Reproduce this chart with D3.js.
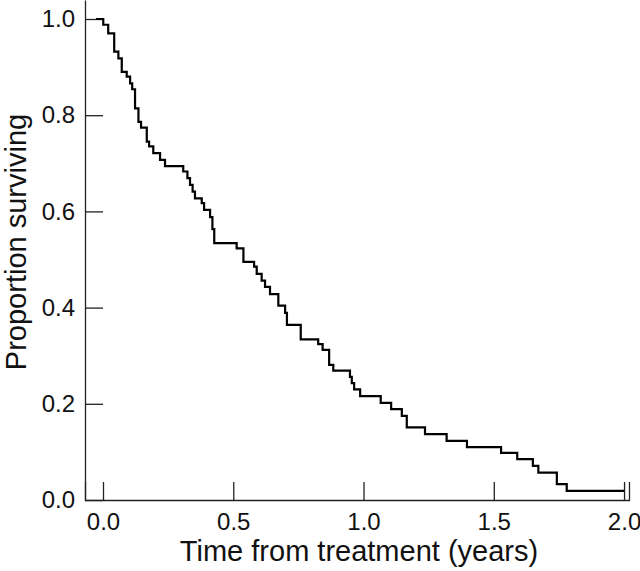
<!DOCTYPE html>
<html>
<head>
<meta charset="utf-8">
<script src="https://cdn.jsdelivr.net/npm/d3@7"></script>
<style>
  body { margin: 0; background: #fff; }
  svg { display: block; }
  .axis path, .axis line { stroke: #222; stroke-width: 1.3px; }
  .axis text { font-family: "Liberation Sans", Arial, sans-serif; font-size: 24px; fill: #111; }
  .label { font-family: "Liberation Sans", Arial, sans-serif; font-size: 29px; fill: #111; }
</style>
</head>
<body>
<div id="chart"></div>
<script>
// Kaplan-Meier estimate: time (years) of each drop and survival after it
var times = [-0.027, 0.001, 0.020, 0.043, 0.059, 0.072, 0.091, 0.104, 0.112, 0.123, 0.136,
    0.146, 0.168, 0.177, 0.193, 0.219, 0.238, 0.308, 0.324, 0.334, 0.344, 0.353, 0.379,
    0.388, 0.411, 0.420, 0.427, 0.513, 0.539, 0.580, 0.590, 0.609, 0.622, 0.641, 0.673,
    0.699, 0.706, 0.759, 0.826, 0.843, 0.868, 0.884, 0.948, 0.955, 0.964, 0.987, 1.066,
    1.106, 1.147, 1.166, 1.236, 1.319, 1.397, 1.528, 1.590, 1.650, 1.671, 1.742, 1.780, 2.001];
var surv = [1.000, 0.988, 0.970, 0.932, 0.918, 0.890, 0.880, 0.866, 0.854, 0.814, 0.786,
    0.774, 0.745, 0.735, 0.721, 0.707, 0.694, 0.683, 0.669, 0.655, 0.641, 0.627, 0.617,
    0.603, 0.588, 0.563, 0.534, 0.523, 0.495, 0.485, 0.470, 0.456, 0.443, 0.428, 0.404,
    0.389, 0.364, 0.334, 0.324, 0.312, 0.281, 0.269, 0.256, 0.243, 0.230, 0.216, 0.202,
    0.189, 0.175, 0.151, 0.137, 0.123, 0.110, 0.098, 0.085, 0.071, 0.057, 0.033, 0.019, 0.019];
var xTicks = [0, 0.5, 1.0, 1.5, 2.0];
var yTicks = [0, 0.2, 0.4, 0.6, 0.8, 1.0];
var xTitle = "Time from treatment (years)";
var yTitle = "Proportion surviving";

var width = 640, height = 571;
var margin = {left: 85, top: 0, bottom: 71, right: 11};

var svg = d3.select("#chart")
    .append("svg")
    .attr("width", width)
    .attr("height", height);

var x = d3.scaleLinear()
    .domain([-0.0691, 2.019])
    .range([margin.left, width - margin.right]);
var y = d3.scaleLinear()
    .domain([0, 1.0395])
    .range([height - margin.bottom, margin.top]);

var xAxis = d3.axisBottom(x)
    .tickValues(xTicks)
    .tickFormat(d3.format(".1f"))
    .tickSizeInner(-18)
    .tickSizeOuter(-18)
    .tickPadding(13);
var yAxis = d3.axisLeft(y)
    .tickValues(yTicks)
    .tickFormat(d3.format(".1f"))
    .tickSizeInner(-18)
    .tickSizeOuter(0)
    .tickPadding(10);

svg.append("g")
    .attr("class", "axis")
    .attr("transform", "translate(0," + y(0) + ")")
    .call(xAxis);
svg.append("g")
    .attr("class", "axis")
    .attr("transform", "translate(" + margin.left + ",0)")
    .call(yAxis);

var pts = times.map(function(t, i) { return [t, surv[i]]; });
var line = d3.line()
    .x(function(d) { return x(d[0]); })
    .y(function(d) { return y(d[1]); })
    .curve(d3.curveStepAfter);

svg.append("path")
    .datum(pts)
    .attr("d", line)
    .attr("fill", "none")
    .attr("stroke", "#000")
    .attr("stroke-width", 2.2);

svg.append("text")
    .attr("class", "label")
    .attr("x", 359)
    .attr("y", 561)
    .attr("text-anchor", "middle")
    .text(xTitle);

svg.append("text")
    .attr("class", "label")
    .attr("transform", "translate(26,242) rotate(-90)")
    .attr("text-anchor", "middle")
    .text(yTitle);
</script>
</body>
</html>
